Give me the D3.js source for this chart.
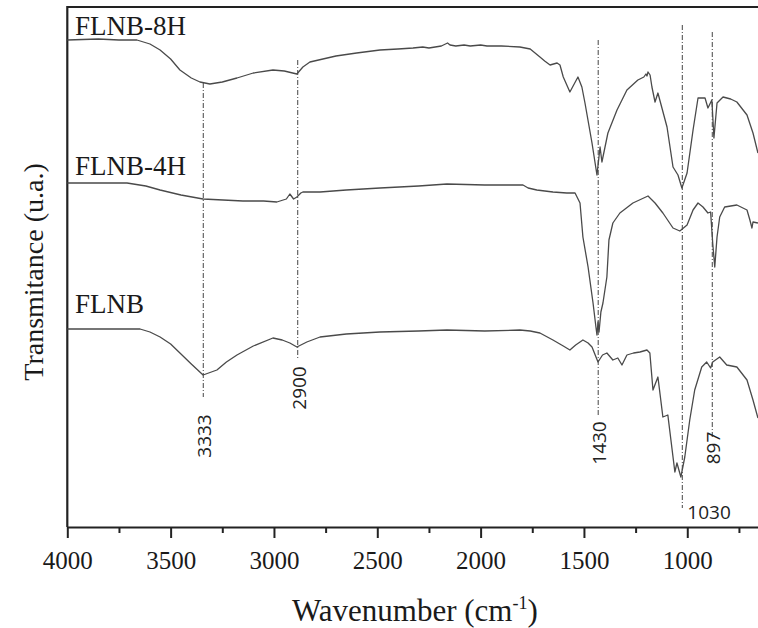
<!DOCTYPE html>
<html lang="en">
<head>
<meta charset="UTF-8">
<title>FTIR spectra FLNB</title>
<script src="https://d3js.org/d3.v7.min.js"></script>
<style>
    body { margin: 0; background: #fff; }
    svg { display: block; }
</style>
</head>
<body>
<svg id="chart" width="758" height="628"></svg>
<script>
// wavenumber (cm-1), transmittance (arbitrary units, offset per curve)
const flnb8h = [
    [4000, 487], [3850, 488], [3750, 487], [3663, 487], [3600, 483], [3551, 477],
    [3500, 468], [3455, 457], [3400, 449], [3358, 445], [3310, 443], [3250, 445],
    [3179, 449], [3100, 454], [3005, 457], [2950, 456], [2889, 453], [2860, 460],
    [2826, 465], [2700, 471], [2600, 474], [2487, 477], [2400, 478], [2327, 479],
    [2280, 480], [2250, 479], [2190, 481], [2160, 484], [2148, 482], [2120, 481],
    [2080, 482], [2050, 481], [2000, 482], [1969, 481], [1900, 481], [1810, 480],
    [1760, 478], [1713, 470], [1690, 466], [1664, 462], [1630, 464], [1616, 462],
    [1600, 450], [1568, 435], [1529, 450], [1510, 440], [1495, 424], [1461, 384],
    [1437, 352], [1422, 380], [1413, 365], [1384, 394], [1340, 417], [1292, 437],
    [1239, 447], [1210, 450], [1200, 453], [1195, 451], [1190, 455], [1180, 452],
    [1171, 440], [1156, 425], [1142, 434], [1098, 400], [1069, 360], [1045, 352],
    [1026, 339], [1001, 354], [972, 397], [948, 429], [914, 429], [900, 419],
    [881, 427], [871, 389], [856, 424], [827, 430], [790, 428], [760, 425],
    [711, 412], [682, 394], [658, 374]
];

const flnb4h = [
    [4000, 344], [3711, 344], [3620, 341], [3551, 337], [3450, 332], [3343, 328],
    [3150, 326], [3050, 326], [2986, 325], [2940, 328], [2923, 333], [2905, 328],
    [2889, 330], [2870, 334], [2860, 335], [2777, 335], [2650, 337], [2487, 339],
    [2300, 341], [2163, 343], [1980, 342], [1795, 342], [1770, 339], [1728, 337],
    [1650, 335], [1583, 334], [1553, 334], [1543, 334], [1519, 324], [1505, 290],
    [1480, 260], [1456, 224], [1442, 200], [1437, 192], [1432, 205], [1427, 195],
    [1418, 215], [1408, 224], [1389, 250], [1379, 287], [1360, 304], [1326, 314],
    [1263, 324], [1190, 331], [1156, 324], [1118, 314], [1069, 299], [1036, 296],
    [1001, 302], [972, 317], [948, 324], [924, 320], [900, 314], [887, 315],
    [877, 284], [867, 260], [856, 290], [843, 310], [819, 320], [760, 322],
    [711, 317], [697, 307], [687, 299], [682, 305], [658, 304]
];

const flnb = [
    [4000, 198], [3800, 198], [3648, 198], [3600, 195], [3551, 190], [3500, 183],
    [3455, 174], [3400, 163], [3343, 152], [3276, 157], [3230, 165], [3179, 172],
    [3100, 181], [3005, 189], [2960, 187], [2923, 184], [2889, 180], [2841, 185],
    [2777, 190], [2650, 193], [2487, 195], [2300, 196], [2163, 197], [1980, 196],
    [1810, 197], [1760, 196], [1713, 194], [1650, 187], [1600, 181], [1568, 177],
    [1540, 182], [1505, 187], [1480, 184], [1461, 180], [1432, 165], [1410, 172],
    [1389, 174], [1360, 167], [1336, 169], [1316, 162], [1292, 172], [1260, 174],
    [1229, 175], [1195, 177], [1181, 174], [1166, 137], [1142, 150], [1118, 110],
    [1094, 112], [1060, 55], [1050, 64], [1031, 50], [1012, 70], [988, 107],
    [964, 137], [930, 160], [906, 165], [887, 159], [877, 165], [843, 170],
    [809, 162], [760, 160], [711, 147], [682, 127], [658, 109]
];

const seriesNames = ["FLNB-8H", "FLNB-4H", "FLNB"];
const seriesData = [flnb8h, flnb4h, flnb];

// marked bands: line position, label, line top / bottom, label centre (y units)
const peakPos = [3342, 2885, 1431, 1024, 879];
const peakLabels = ["3333", "2900", "1430", "1030", "897"];
const peakTop = [444, 467, 487, 502, 495];
const peakBottom = [130, 167, 110, 19, 90];
const peakLabelAt = [91, 139, 84, 15, 79];

const majorTicks = [4000, 3500, 3000, 2500, 2000, 1500, 1000];
const minorTicks = [3750, 3250, 2750, 2250, 1750, 1250, 750];

const serif = '"Liberation Serif", "Times New Roman", serif';
const sans = '"Open Sans", "DejaVu Sans", sans-serif';

const svg = d3.select("#chart");

const x = d3.scaleLinear().domain([4000, 650]).range([67.3, 759.6]);
const y = d3.scaleLinear().domain([0, 520]).range([527, 7]);

// frame: top and left lines
svg.append("line")
    .attr("x1", 67).attr("x2", 758).attr("y1", 7).attr("y2", 7)
    .attr("stroke", "#222").attr("stroke-width", 2.2);
svg.append("line")
    .attr("x1", 67.3).attr("x2", 67.3).attr("y1", 6).attr("y2", 527)
    .attr("stroke", "#222").attr("stroke-width", 2.2);

// x axis
const xAxis = svg.append("g")
    .attr("transform", "translate(0,527)")
    .call(d3.axisBottom(x).tickValues(majorTicks).tickSize(11).tickSizeOuter(0).tickPadding(11).tickFormat(d3.format("d")));
xAxis.select(".domain").attr("stroke", "#222").attr("stroke-width", 2.2);
xAxis.selectAll(".tick line").attr("stroke", "#222").attr("stroke-width", 2);
xAxis.selectAll(".tick text")
    .style("font-family", serif)
    .style("font-size", "25px")
    .attr("fill", "#1a1a1a")
    .attr("dy", "0.8em");

svg.append("g")
    .attr("transform", "translate(0,527)")
    .call(d3.axisBottom(x).tickValues(minorTicks).tickSize(6).tickSizeOuter(0).tickFormat(""))
    .call(g => g.select(".domain").remove())
    .selectAll(".tick line").attr("stroke", "#222").attr("stroke-width", 2);

// axis titles
const xTitle = svg.append("text")
    .attr("x", 292).attr("y", 621)
    .attr("fill", "#1a1a1a")
    .style("font-family", serif)
    .style("font-size", "31px");
xTitle.append("tspan").text("Wavenumber (cm");
xTitle.append("tspan").style("font-size", "18px").attr("dy", -12).text("-1");
xTitle.append("tspan").attr("dy", 12).text(")");

svg.append("text")
    .attr("transform", "translate(43,272) rotate(-90)")
    .attr("text-anchor", "middle")
    .attr("fill", "#1a1a1a")
    .style("font-family", serif)
    .style("font-size", "28px")
    .text("Transmitance (u.a.)");

// band markers
peakPos.forEach((p, i) => {
    svg.append("line")
        .attr("x1", x(p)).attr("x2", x(p))
        .attr("y1", y(peakTop[i])).attr("y2", y(peakBottom[i]))
        .attr("stroke", "#444").attr("stroke-width", 1)
        .attr("stroke-dasharray", "5,2,1,2");

    const t = svg.append("text")
        .attr("fill", "#222")
        .style("font-family", sans)
        .style("font-size", "19px")
        .attr("dominant-baseline", "central")
        .text(peakLabels[i]);
    if (peakLabels[i] === "1030") {
        t.attr("x", x(p) + 5).attr("y", y(peakLabelAt[i]));
    } else {
        t.attr("transform", `translate(${x(p) + 1},${y(peakLabelAt[i])}) rotate(-90)`)
            .attr("text-anchor", "middle");
    }
});

// spectra
const line = d3.line().x(d => x(d[0])).y(d => y(d[1]));

seriesData.forEach(s => {
    svg.append("path")
        .datum(s)
        .attr("d", line)
        .attr("fill", "none")
        .attr("stroke", "#4a4a4a")
        .attr("stroke-width", 1.3)
        .attr("stroke-linejoin", "round");
});

// curve names
const nameBase = [35, 175, 313];
seriesNames.forEach((n, i) => {
    svg.append("text")
        .attr("x", 75).attr("y", nameBase[i])
        .attr("fill", "#1a1a1a")
        .style("font-family", serif)
        .style("font-size", "27px")
        .text(n);
});
</script>
</body>
</html>
